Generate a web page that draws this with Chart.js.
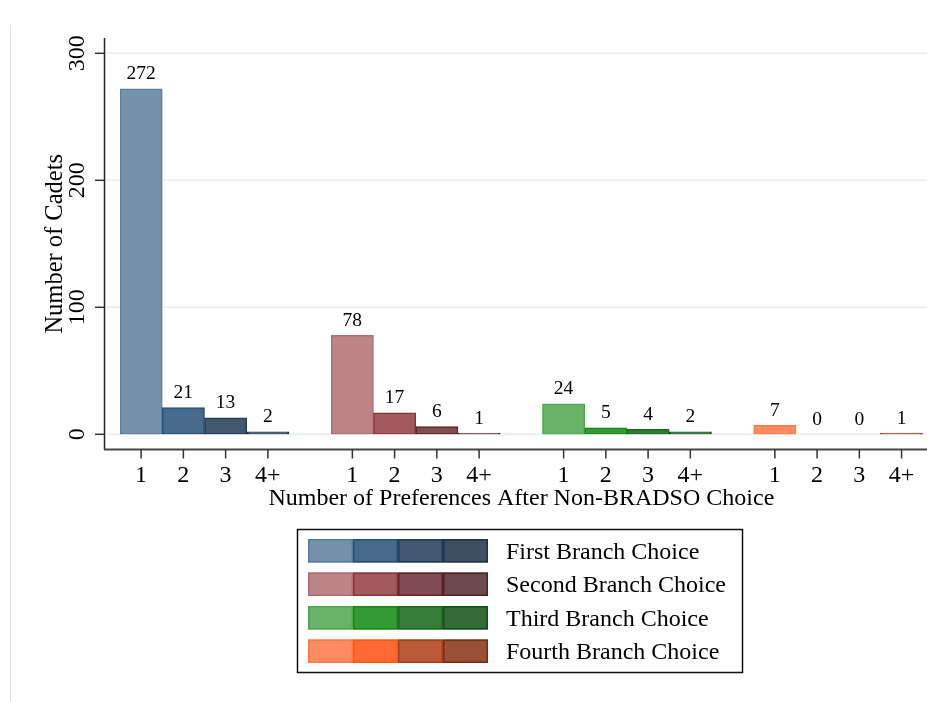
<!DOCTYPE html>
<html>
<head>
<meta charset="utf-8">
<script src="https://cdn.jsdelivr.net/npm/chart.js@4"></script>
<style>
  html, body { margin: 0; padding: 0; background: #fff; }
  #wrap { width: 927px; height: 702px; }
</style>
</head>
<body>
<div id="wrap"><canvas id="prefChart" width="927" height="702"></canvas></div>
<script>
// Data
const branchNames = ['First Branch Choice', 'Second Branch Choice', 'Third Branch Choice', 'Fourth Branch Choice'];
const prefLabels = ['1', '2', '3', '4+'];
const firstChoice = [272, 21, 13, 2];
const secondChoice = [78, 17, 6, 1];
const thirdChoice = [24, 5, 4, 2];
const fourthChoice = [7, 0, 0, 1];
const yTicks = [0, 100, 200, 300];

// Stata-like fills and outlines, one shade per preference count
const fillColors = [
    ['#7592ab', '#476a8c', '#435870', '#3d4f61'],
    ['#bd8488', '#a35a5f', '#804d52', '#6e4a4e'],
    ['#67b467', '#339b33', '#367c39', '#366a3a'],
    ['#ff8c60', '#ff6a33', '#ba5a36', '#9a5036']
];
const lineColors = [
    ['#5b7c9a', '#24507a', '#213a57', '#1d3347'],
    ['#b06c72', '#8e3239', '#5e2529', '#4c2225'],
    ['#4fa64f', '#15890f', '#1b681e', '#0e5113'],
    ['#ff7a47', '#ff5716', '#a8411c', '#7b2c0c']
];

const FONT = '"Liberation Serif", "Times New Roman", serif';

// Flatten groups into one category axis, with an empty slot between groups
const allSeries = [firstChoice, secondChoice, thirdChoice, fourthChoice];
let labels = [], values = [], fills = [], borders = [];
allSeries.forEach((series, g) => {
    series.forEach((v, i) => {
        labels.push(prefLabels[i]);
        values.push(v);
        fills.push(fillColors[g][i]);
        borders.push(lineColors[g][i]);
    });
    if (g < allSeries.length - 1) {
        labels.push('');
        values.push(null);
        fills.push('rgba(0,0,0,0)');
        borders.push('rgba(0,0,0,0)');
    }
});

// Draws grid, axes, ticks, value labels, titles and the legend box
const stataDecor = {
    id: 'stataDecor',
    beforeDatasetsDraw(chart) {
        const ctx = chart.ctx;
        const y = chart.scales.y;
        ctx.save();
        // faint outer region edge
        ctx.strokeStyle = '#e6e6e6';
        ctx.lineWidth = 1;
        ctx.beginPath();
        ctx.moveTo(10.5, 25);
        ctx.lineTo(10.5, 702);
        ctx.stroke();
        // grid lines
        ctx.strokeStyle = '#e8eef3';
        ctx.lineWidth = 1.6;
        yTicks.forEach(t => {
            const py = y.getPixelForValue(t);
            ctx.beginPath();
            ctx.moveTo(104, py);
            ctx.lineTo(927, py);
            ctx.stroke();
        });
        ctx.restore();
    },
    afterDatasetsDraw(chart) {
        const ctx = chart.ctx;
        const x = chart.scales.x;
        const y = chart.scales.y;
        const area = chart.chartArea;
        const axisX = 104.5, axisY = 449.5;
        ctx.save();

        // axis lines
        ctx.strokeStyle = '#222';
        ctx.lineWidth = 1.5;
        ctx.beginPath();
        ctx.moveTo(axisX, 38);
        ctx.lineTo(axisX, axisY);
        ctx.stroke();
        ctx.strokeStyle = '#444';
        ctx.lineWidth = 1.8;
        ctx.beginPath();
        ctx.moveTo(axisX - 0.5, axisY);
        ctx.lineTo(927, axisY);
        ctx.stroke();

        // y ticks and rotated labels
        ctx.fillStyle = '#000';
        ctx.font = '24px ' + FONT;
        ctx.strokeStyle = '#333';
        ctx.lineWidth = 1.5;
        yTicks.forEach(t => {
            const py = y.getPixelForValue(t);
            ctx.beginPath();
            ctx.moveTo(95, py);
            ctx.lineTo(axisX, py);
            ctx.stroke();
            ctx.save();
            ctx.translate(84, py);
            ctx.rotate(-Math.PI / 2);
            ctx.textAlign = 'center';
            ctx.textBaseline = 'alphabetic';
            ctx.fillText(String(t), 0, 0);
            ctx.restore();
        });

        // x ticks and labels
        labels.forEach((lab, i) => {
            if (!lab) return;
            const px = x.getPixelForValue(i);
            ctx.beginPath();
            ctx.moveTo(px, axisY);
            ctx.lineTo(px, axisY + 9);
            ctx.stroke();
            ctx.textAlign = 'center';
            ctx.textBaseline = 'alphabetic';
            ctx.fillText(lab, px, 482);
        });

        // value labels above bars
        const meta = chart.getDatasetMeta(0);
        ctx.font = '19.5px ' + FONT;
        meta.data.forEach((bar, i) => {
            if (values[i] === null) return;
            ctx.textAlign = 'center';
            ctx.fillText(String(values[i]), bar.x, y.getPixelForValue(values[i]) - 9.5);
        });

        // axis titles
        ctx.font = '24px ' + FONT;
        ctx.textAlign = 'center';
        ctx.fillText('Number of Preferences After Non-BRADSO Choice', (area.left + area.right) / 2, 505);
        ctx.save();
        ctx.translate(62, (area.top + area.bottom) / 2);
        ctx.rotate(-Math.PI / 2);
        ctx.font = '24.5px ' + FONT;
        ctx.fillText('Number of Cadets', 0, 0);
        ctx.restore();

        // legend box
        const boxL = 297.5, boxT = 529.5, boxR = 742.5, boxB = 672.5;
        ctx.strokeStyle = '#111';
        ctx.lineWidth = 1.5;
        ctx.strokeRect(boxL, boxT, boxR - boxL, boxB - boxT);
        const swW = 45, swH = 23.5, swL = 308, rowTop = 539, rowStep = 33.5;
        branchNames.forEach((name, g) => {
            const ty = rowTop + g * rowStep;
            for (let k = 0; k < prefLabels.length; k++) {
                ctx.fillStyle = fillColors[g][k];
                ctx.fillRect(swL + k * swW, ty, swW, swH);
                ctx.strokeStyle = lineColors[g][k];
                ctx.lineWidth = 1.5;
                ctx.strokeRect(swL + k * swW + 0.75, ty + 0.75, swW - 1.5, swH - 1.5);
            }
            ctx.fillStyle = '#000';
            ctx.textAlign = 'left';
            ctx.fillText(name, 506, ty + swH / 2 + 8);
        });

        ctx.restore();
    }
};

const ctx = document.getElementById('prefChart').getContext('2d');
const prefChart = new Chart(ctx, {
    type: 'bar',
    data: {
        labels: labels,
        datasets: [{
            label: 'Number of Cadets',
            data: values,
            backgroundColor: c => (c.raw === 0 ? 'rgba(0,0,0,0)' : fills[c.dataIndex]),
            borderColor: c => (c.raw === 0 ? 'rgba(0,0,0,0)' : borders[c.dataIndex]),
            borderWidth: c => (c.raw === 0 ? 0 : 1.5),
            borderSkipped: false,
            categoryPercentage: 1.0,
            barPercentage: 1.0
        }]
    },
    options: {
        responsive: false,
        animation: false,
        devicePixelRatio: 1,
        layout: {
            padding: { left: 120, right: 4.3, top: 53.3, bottom: 267.7 }
        },
        scales: {
            x: { display: false },
            y: { display: false, min: 0, max: 300 }
        },
        plugins: {
            legend: { display: false },
            tooltip: { enabled: false }
        }
    },
    plugins: [stataDecor]
});
</script>
</body>
</html>
